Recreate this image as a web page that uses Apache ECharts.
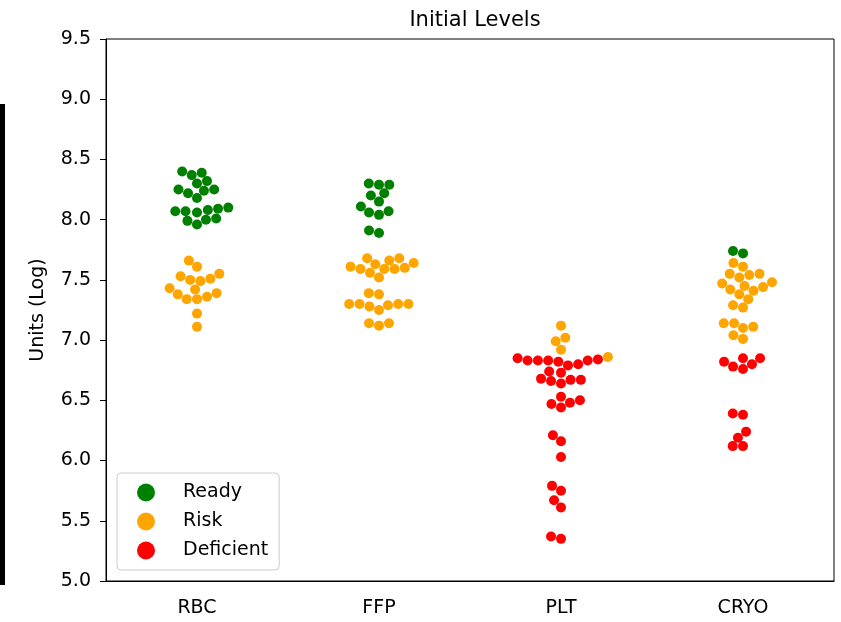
<!DOCTYPE html>
<html>
<head>
<meta charset="utf-8">
<script src="https://cdn.jsdelivr.net/npm/echarts@6/dist/echarts.min.js"></script>
<style>
  html, body { margin: 0; padding: 0; background: #fff; }
  #main { width: 841px; height: 622px; }
</style>
</head>
<body>
<div id="main"></div>
<script>
//=============== data =================
var categories = ['RBC', 'FFP', 'PLT', 'CRYO'];
var groupNames = ['Ready', 'Risk', 'Deficient'];
var groupColors = ['#008000', '#ffa500', '#ff0000'];
var yTicks = [5.0, 5.5, 6.0, 6.5, 7.0, 7.5, 8.0, 8.5, 9.0, 9.5];

// one list per category (RBC, FFP, PLT, CRYO)
var readyValues = [
    [8.40, 8.37, 8.39, 8.32, 8.30, 8.25, 8.22, 8.25, 8.24, 8.18, 8.10, 8.08, 8.07, 8.06, 8.07, 8.09, 7.99, 7.96, 8.00, 8.01],
    [8.29, 8.29, 8.30, 8.22, 8.20, 8.15, 8.11, 8.07, 8.06, 8.04, 7.91, 7.89],
    [],
    [7.74, 7.72]
];
var riskValues = [
    [7.66, 7.61, 7.55, 7.53, 7.49, 7.50, 7.51, 7.39, 7.34, 7.43, 7.34, 7.38, 7.42, 7.36, 7.22, 7.11],
    [7.68, 7.66, 7.68, 7.63, 7.64, 7.61, 7.59, 7.56, 7.59, 7.59, 7.60, 7.52, 7.39, 7.38, 7.30, 7.30, 7.28, 7.25, 7.29, 7.30, 7.30, 7.14, 7.12, 7.14],
    [7.12, 7.02, 6.99, 6.92, 6.86],
    [7.61, 7.64, 7.55, 7.52, 7.54, 7.55, 7.48, 7.44, 7.45, 7.47, 7.41, 7.42, 7.38, 7.34, 7.27, 7.29, 7.11, 7.10, 7.14, 7.14, 7.04, 7.01]
];
var deficientValues = [
    [],
    [],
    [6.83, 6.83, 6.82, 6.85, 6.84, 6.80, 6.83, 6.83, 6.79, 6.74, 6.73, 6.68, 6.66, 6.64, 6.67, 6.67, 6.53, 6.47, 6.44, 6.48, 6.50, 6.21, 6.16, 6.03, 5.79, 5.75, 5.67, 5.61, 5.37, 5.35],
    [6.82, 6.78, 6.85, 6.76, 6.80, 6.85, 6.39, 6.38, 6.24, 6.19, 6.12, 6.12]
];
var groupValues = [readyValues, riskValues, deficientValues];

//=============== swarm layout =================
var PX_PER_X = 182;       // pixels per category step
var PX_PER_Y = 542 / 4.5; // pixels per unit on y
var R = 4.9;              // marker radius in px

// seaborn-like beeswarm: returns x offsets (in category units)
function beeswarm(vals) {
    var pts = vals.map(function (v, i) { return { y: v * PX_PER_Y, i: i }; });
    pts.sort(function (a, b) { return a.y - b.y; });
    var swarm = [];
    var offs = new Array(vals.length);
    pts.forEach(function (p, k) {
        var x = 0;
        if (k > 0) {
            var nb = [];
            for (var j = swarm.length - 1; j >= 0; j--) {
                if (p.y - swarm[j].y < 2 * R) nb.push(swarm[j]); else break;
            }
            nb.reverse();
            var cands = [0];
            var leftFirst = true;
            nb.forEach(function (q) {
                var dy = p.y - q.y;
                var dx = Math.sqrt(Math.max(4 * R * R - dy * dy, 0)) * 1.05;
                if (leftFirst) cands.push(q.x - dx, q.x + dx);
                else cands.push(q.x + dx, q.x - dx);
                leftFirst = !leftFirst;
            });
            cands = cands.map(function (c, idx) { return { c: c, idx: idx }; });
            cands.sort(function (a, b) { return Math.abs(a.c) - Math.abs(b.c) || a.idx - b.idx; });
            for (var c = 0; c < cands.length; c++) {
                var ok = nb.every(function (q) {
                    var ddx = q.x - cands[c].c, ddy = q.y - p.y;
                    return ddx * ddx + ddy * ddy >= 4 * R * R - 1e-6;
                });
                if (ok) { x = cands[c].c; break; }
            }
        }
        swarm.push({ x: x, y: p.y });
        offs[p.i] = x / PX_PER_X;
    });
    return offs;
}

// all hues of a category share one swarm
var seriesData = [[], [], []];
categories.forEach(function (cat, ci) {
    var all = [], tag = [];
    groupValues.forEach(function (gv, gi) {
        gv[ci].forEach(function (v) { all.push(v); tag.push(gi); });
    });
    var offs = beeswarm(all);
    all.forEach(function (v, k) {
        seriesData[tag[k]].push([ci + offs[k], v]);
    });
});

//=============== chart =================
var FONT = 'DejaVu Sans';
var myChart = echarts.init(document.getElementById('main'));
var option = {
    backgroundColor: '#fff',
    textStyle: { fontFamily: FONT },
    title: {
        text: 'Initial Levels',
        left: 470,
        top: 5,
        textAlign: 'center',
        textStyle: { fontFamily: FONT, fontSize: 21, fontWeight: 'normal', color: '#000' }
    },
    legend: {
        orient: 'vertical',
        left: 117,
        top: 473,
        data: groupNames,
        icon: 'circle',
        itemWidth: 18,
        itemHeight: 18,
        itemGap: 10,
        padding: [10, 11, 10, 20],
        borderColor: '#cccccc',
        borderWidth: 1,
        borderRadius: 4,
        backgroundColor: 'rgba(255,255,255,0.8)',
        formatter: function (name) { return '{t|' + name + '}'; },
        textStyle: {
            fontFamily: FONT, fontSize: 19, color: '#000',
            rich: { t: { fontFamily: FONT, fontSize: 19, color: '#000', padding: [0, 0, 0, 23] } }
        }
    },
    grid: {
        left: 106, right: 7, top: 39, bottom: 41,
        show: true, borderColor: '#000', borderWidth: 1, backgroundColor: '#fff'
    },
    xAxis: [{
        type: 'category',
        data: categories,
        boundaryGap: true,
        axisLine: { lineStyle: { color: '#000', width: 1 } },
        axisTick: { alignWithLabel: true, length: 6, lineStyle: { color: '#000' } },
        axisLabel: { margin: 18, fontFamily: FONT, fontSize: 19, color: '#000' },
        splitLine: { show: false }
    }, {
        type: 'value',
        min: -0.5,
        max: 3.5,
        show: false,
        splitLine: { show: false }
    }],
    yAxis: {
        type: 'value',
        min: yTicks[0],
        max: yTicks[yTicks.length - 1],
        interval: 0.5,
        name: 'Units (Log)',
        nameLocation: 'middle',
        nameGap: 58,
        nameTextStyle: { fontFamily: FONT, fontSize: 19, color: '#000' },
        axisLine: { show: true, onZero: false, lineStyle: { color: '#000', width: 1 } },
        axisTick: { show: true, length: 6, lineStyle: { color: '#000' } },
        axisLabel: {
            margin: 15, fontFamily: FONT, fontSize: 19, color: '#000',
            formatter: function (v) { return v.toFixed(1); }
        },
        splitLine: { show: false }
    },
    graphic: [{
        type: 'rect',
        left: 0,
        top: 104,
        shape: { width: 5, height: 481 },
        style: { fill: '#000' }
    }],
    series: groupNames.map(function (name, gi) {
        return {
            name: name,
            type: 'scatter',
            xAxisIndex: 1,
            symbol: 'circle',
            symbolSize: 10,
            itemStyle: { color: groupColors[gi], opacity: 1 },
            emphasis: { disabled: true },
            data: seriesData[gi]
        };
    })
};
myChart.setOption(option);
</script>
</body>
</html>
